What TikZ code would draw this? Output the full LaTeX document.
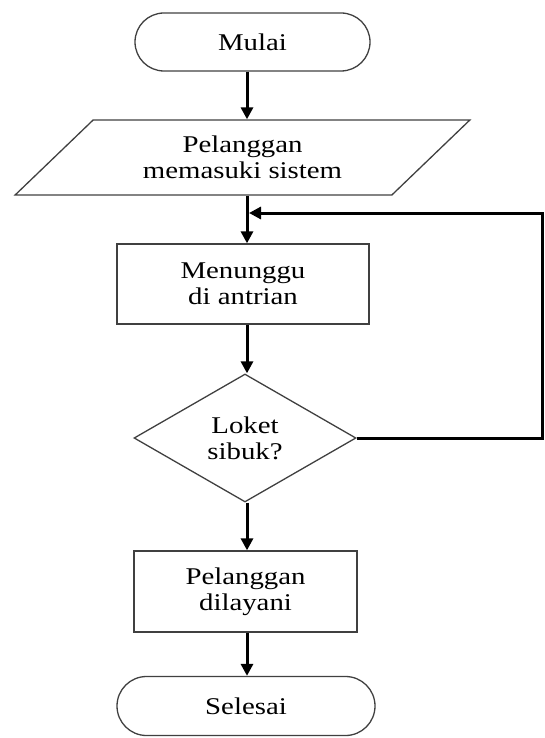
\documentclass[tikz,border=0pt]{standalone}
\usepackage{fontspec}
\setmainfont{Liberation Serif}[FakeStretch=1.2]
\usetikzlibrary{shapes.geometric,shapes.misc,arrows.meta}

\begin{document}
\begin{tikzpicture}[x=1pt,y=-1pt,
    simbol/.style={draw=black!75,line width=1.3pt,align=center,
        font=\fontsize{24}{26}\selectfont,inner sep=0pt},
    terminal/.style={simbol,rounded rectangle,minimum width=235pt,minimum height=58pt},
    proses/.style={simbol,rectangle},
    masukan/.style={simbol,trapezium,trapezium left angle=39.5,
        trapezium right angle=140.5,trapezium stretches=true,
        minimum width=455pt,minimum height=75pt},
    keputusan/.style={simbol,diamond,minimum width=222pt,minimum height=128pt},
    panah/.style={line width=3pt,-{Triangle[length=12pt,width=12pt]}}]

    \useasboundingbox (0,0) rectangle (544,738);

    % Simbol
    \node[terminal] (mulai) at (252.5,42) {Mulai};
    \node[masukan] (masuk) at (242.5,157.5) {Pelanggan\\memasuki sistem};
    \node[proses,minimum width=252pt,minimum height=80pt] (antri) at (243,284)
        {Menunggu\\di antrian};
    \node[keputusan] (sibuk) at (245,438) {Loket\\sibuk?};
    \node[proses,minimum width=223pt,minimum height=81pt] (layani) at (245.5,591.5)
        {Pelanggan\\dilayani};
    \node[terminal,minimum width=258pt,minimum height=59pt] (selesai) at (246,706)
        {Selesai};

    % Alur
    \coordinate (sumbu) at (247,0);
    \draw[panah] (mulai.south -| sumbu) -- (masuk.north -| sumbu);
    \draw[panah] (masuk.south -| sumbu) -- (antri.north -| sumbu);
    \draw[panah] (antri.south -| sumbu) -- (sibuk.north -| sumbu);
    \draw[panah] (sibuk.south -| sumbu) -- (layani.north -| sumbu);
    \draw[panah] (layani.south -| sumbu) -- (selesai.north -| sumbu);

    % Kembali ke antrian
    \coordinate (pojok) at (542,213);
    \coordinate (gabung) at (249,213);
    \draw[panah] (sibuk.east) -| (pojok) -- (gabung);

\end{tikzpicture}
\end{document}
